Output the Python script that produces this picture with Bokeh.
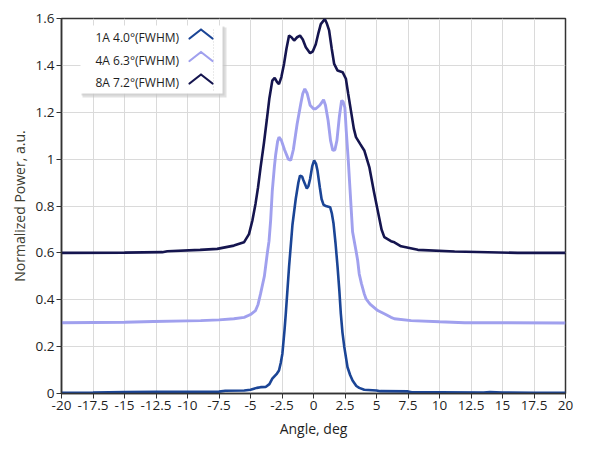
from bokeh.plotting import figure
from bokeh.models import FixedTicker, Label, BoxAnnotation, PolyAnnotation
from bokeh.embed import file_html
from bokeh.resources import INLINE

# ---------------- data ----------------
angle_1a = [-20, -17.5, -15, -12.5, -10, -7.5, -7.0, -5.5, -5.0, -4.5, -4.2, -3.8, -3.5, -3.27,
            -2.9, -2.74, -2.6, -2.47, -2.3, -2.2, -1.94, -1.67, -1.41, -1.2, -1.07, -0.9, -0.8,
            -0.53, -0.4, -0.27, -0.1, 0.05, 0.2, 0.32, 0.5, 0.64, 0.8, 0.98, 1.32, 1.45, 1.59,
            1.75, 1.91, 2.05, 2.17, 2.3, 2.44, 2.7, 2.9, 3.1, 3.4, 3.63, 4.03, 5.0, 5.3, 7.5,
            7.8, 10, 13.5, 14, 15, 17.5, 20]
power_1a = [0.003, 0.004, 0.006, 0.007, 0.007, 0.008, 0.012, 0.013, 0.016, 0.024, 0.027, 0.028,
            0.04, 0.063, 0.085, 0.098, 0.13, 0.17, 0.27, 0.34, 0.54, 0.72, 0.83, 0.90, 0.93,
            0.925, 0.91, 0.875, 0.885, 0.915, 0.97, 0.995, 0.98, 0.95, 0.88, 0.83, 0.805, 0.80,
            0.795, 0.77, 0.725, 0.64, 0.54, 0.44, 0.34, 0.26, 0.2, 0.112, 0.08, 0.055, 0.032,
            0.024, 0.016, 0.013, 0.01, 0.009, 0.005, 0.005, 0.004, 0.006, 0.004, 0.003, 0.003]

angle_4a = [-20, -15, -12.7, -10, -8.96, -7.5, -6.32, -5.5, -5.0, -4.6, -4.4, -4.2, -3.9, -3.67,
            -3.53, -3.4, -3.27, -3.1, -3.0, -2.85, -2.74, -2.55, -2.3, -2.0, -1.81, -1.6, -1.3,
            -1.01, -0.85, -0.69, -0.5, -0.27, 0.0, 0.18, 0.5, 0.8, 0.95, 1.16, 1.35, 1.53, 1.7,
            1.86, 2.05, 2.23, 2.35, 2.49, 2.6, 2.76, 2.9, 3.1, 3.37, 3.5, 3.63, 3.8, 4.03, 4.16,
            4.43, 4.56, 5.1, 5.62, 6.15, 6.42, 7.75, 10, 12, 20]
power_4a = [0.302, 0.304, 0.307, 0.31, 0.311, 0.314, 0.319, 0.325, 0.337, 0.354, 0.38, 0.426,
            0.5, 0.597, 0.65, 0.74, 0.866, 0.97, 1.02, 1.075, 1.094, 1.08, 1.04, 1.0, 0.995,
            1.04, 1.15, 1.236, 1.28, 1.30, 1.28, 1.23, 1.215, 1.215, 1.23, 1.253, 1.23, 1.165,
            1.08, 1.037, 1.04, 1.08, 1.18, 1.25, 1.245, 1.22, 1.12, 0.995, 0.87, 0.69, 0.61,
            0.57, 0.51, 0.47, 0.425, 0.405, 0.385, 0.378, 0.354, 0.34, 0.325, 0.319, 0.311,
            0.306, 0.302, 0.301]

angle_8a = [-20, -15, -12, -11.6, -9, -7.64, -6.32, -5.52, -5.12, -4.85, -4.6, -4.4, -4.2,
            -3.93, -3.7, -3.5, -3.27, -3.08, -2.9, -2.74, -2.55, -2.34, -2.15, -1.94, -1.75,
            -1.54, -1.3, -1.07, -0.85, -0.61, -0.27, -0.05, 0.18, 0.4, 0.58, 0.9, 1.05, 1.24,
            1.45, 1.64, 1.91, 2.31, 2.57, 2.75, 2.97, 3.2, 3.37, 3.7, 4.03, 4.43, 4.8, 5.1,
            5.4, 5.62, 6.15, 6.42, 6.95, 8.28, 11.2, 16.2, 20]
power_8a = [0.600, 0.601, 0.603, 0.607, 0.613, 0.617, 0.631, 0.645, 0.68, 0.738, 0.81, 0.88,
            0.965, 1.07, 1.17, 1.26, 1.335, 1.347, 1.33, 1.32, 1.35, 1.406, 1.47, 1.527, 1.52,
            1.506, 1.52, 1.527, 1.51, 1.477, 1.452, 1.46, 1.49, 1.54, 1.576, 1.598, 1.58,
            1.549, 1.47, 1.406, 1.378, 1.371, 1.343, 1.28, 1.207, 1.13, 1.094, 1.065, 1.037,
            0.966, 0.86, 0.78, 0.70, 0.667, 0.65, 0.645, 0.628, 0.613, 0.606, 0.600, 0.600]

series_labels = ["1A 4.0°(FWHM)", "4A 6.3°(FWHM)", "8A 7.2°(FWHM)"]
series_colors = ["#1b4596", "#a0a0ee", "#15154f"]

x_tick_values = [-20, -17.5, -15, -12.5, -10, -7.5, -5, -2.5, 0, 2.5, 5, 7.5, 10, 12.5, 15, 17.5, 20]
x_tick_labels = ["-20", "-17.5", "-15", "-12.5", "-10", "-7.5", "-5", "-2.5", "0", "2.5", "5",
                 "7.5", "10", "12.5", "15", "17.5", "20"]
y_tick_values = [0, 0.2, 0.4, 0.6, 0.8, 1.0, 1.2, 1.4, 1.6]
y_tick_labels = ["0", "0.2", "0.4", "0.6", "0.8", "1", "1.2", "1.4", "1.6"]

FONT = "Open Sans"
TXT = "#1e1e1e"

p = figure(width=580, height=448, x_range=(-20, 20), y_range=(0, 1.6),
           output_backend="svg", toolbar_location=None,
           min_border_left=61, min_border_right=15, min_border_top=18, min_border_bottom=55)
p.background_fill_color = "white"
p.border_fill_color = "white"
p.outline_line_color = "#333333"
p.outline_line_width = 1.5

p.xaxis.ticker = FixedTicker(ticks=x_tick_values)
p.yaxis.ticker = FixedTicker(ticks=y_tick_values)
p.xaxis.major_label_overrides = dict(zip(x_tick_values, x_tick_labels))
p.yaxis.major_label_overrides = dict(zip(y_tick_values, y_tick_labels))

for ax in (p.xaxis, p.yaxis):
    ax.axis_line_color = "#333333"
    ax.axis_line_width = 1.5
    ax.major_tick_line_color = "#333333"
    ax.major_tick_out = 5
    ax.major_tick_in = 0
    ax.minor_tick_line_color = None
    ax.major_label_text_font = FONT
    ax.major_label_text_font_size = "13.5px"
    ax.major_label_text_color = TXT
    ax.major_label_standoff = 2
    ax.axis_label_text_font = FONT
    ax.axis_label_text_font_size = "14px"
    ax.axis_label_text_font_style = "normal"

p.xaxis.axis_label = "Angle, deg"
p.xaxis.axis_label_text_color = TXT
p.xaxis.axis_label_standoff = 6
p.yaxis.axis_label = "Normalized Power, a.u."
p.yaxis.axis_label_text_color = "#3c3c30"
p.yaxis.axis_label_standoff = 4

p.xgrid.grid_line_color = "#dadada"
p.ygrid.grid_line_color = "#dadada"
p.xgrid.grid_line_width = 1
p.ygrid.grid_line_width = 1

p.line(angle_1a, power_1a, line_color=series_colors[0], line_width=2.6)
p.line(angle_4a, power_4a, line_color=series_colors[1], line_width=2.9)
p.line(angle_8a, power_8a, line_color=series_colors[2], line_width=2.6)

# ---------------- legend (text left, chevron right) ----------------
def screen_box(left, right, bottom, top, **kw):
    return BoxAnnotation(left=left, right=right, bottom=bottom, top=top,
                         left_units="screen", right_units="screen",
                         bottom_units="screen", top_units="screen", **kw)

p.add_layout(screen_box(21, 165, 296, 366, fill_color="#bdbdbd", fill_alpha=0.45, line_color=None))
p.add_layout(screen_box(20, 163, 298, 367, fill_color="#c8c8c8", fill_alpha=0.6, line_color=None))
p.add_layout(screen_box(19, 161, 300, 368, fill_color="white", fill_alpha=1.0, line_color=None))
p.add_layout(PolyAnnotation(xs=[152, 152], ys=[303, 366], xs_units="screen", ys_units="screen",
                            fill_alpha=0, line_color="#d4d4d4", line_alpha=1.0,
                            line_width=1, line_dash="1 2"))

row_y = [356, 333.5, 311]
for lab, col, yy in zip(series_labels, series_colors, row_y):
    p.add_layout(Label(x=34, y=yy, x_units="screen", y_units="screen", text=lab,
                       text_font=FONT, text_font_size="12px", text_color=TXT,
                       text_baseline="middle", text_align="left"))
    p.add_layout(PolyAnnotation(xs=[128, 139.5, 151, 139.5], ys=[yy - 1, yy + 8, yy - 1, yy + 8],
                                xs_units="screen", ys_units="screen",
                                fill_alpha=0, line_color=col, line_alpha=1.0, line_width=2.2,
                                line_join="round"))

open("out.html", "w").write(file_html(p, INLINE))
